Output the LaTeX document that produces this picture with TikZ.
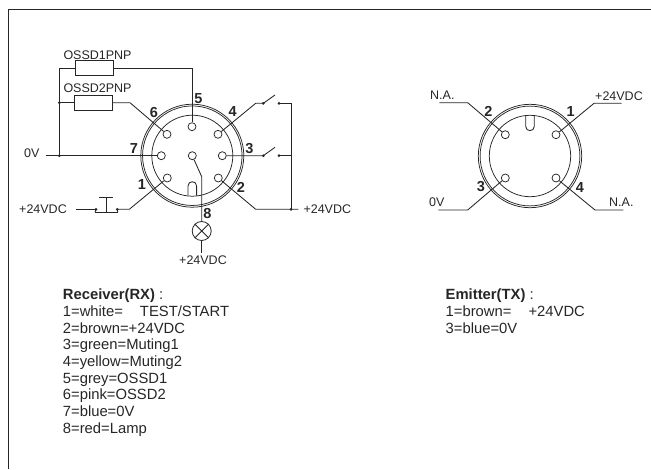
\documentclass[tikz,border=0pt]{standalone}
\usepackage{fontspec}
\setmainfont{Liberation Sans}
\begin{document}
\begin{tikzpicture}[x=1pt,y=-1pt,
  wire/.style={line width=0.85pt,draw=black!85},
  pinhole/.style={circle,draw=black!85,line width=0.75pt,fill=white,minimum size=8pt,inner sep=0pt},
  ring/.style={circle,draw=black!85,line width=0.75pt,inner sep=0pt},
  res/.style={rectangle,draw=black!85,line width=0.85pt,minimum width=38pt,minimum height=15pt,inner sep=0pt},
  lab/.style={anchor=base west,inner sep=0pt,font=\fontsize{12.5}{14}\selectfont,text=black!85},
  num/.style={inner sep=0pt,font=\fontsize{14.5}{16}\selectfont\bfseries,text=black!85},
  dotj/.style={circle,fill=black!85,minimum size=3pt,inner sep=0pt},
  lst/.style={anchor=north west,inner sep=0pt,align=left,font=\fontsize{14.8}{16.67}\selectfont,text=black!85},
  lamp/.style={circle,draw=black!85,line width=0.8pt,fill=white,minimum size=19pt,inner sep=0pt}]
\useasboundingbox (0,0) rectangle (651,469);
\draw[line width=1.1pt,draw=black!85] (8.5,469) -- (8.5,9.5) -- (651,9.5);

% ---------- receiver connector
\node[ring,minimum size=103pt] (ro) at (192.3,155.7) {};
\node[ring,minimum size=99.5pt] (rm) at (192.3,155.7) {};
\node[ring,minimum size=81pt] (ri) at (192.3,155.7) {};
\draw[wire] (188,195.6) -- (188,186) .. controls (188,180.3) and (196.6,180.3) .. (196.6,186) -- (196.6,195.6);

\node[pinhole] (r5) at (192,126.7) {};
\node[pinhole] (r6) at (167,134.3) {};
\node[pinhole] (r4) at (218,134.3) {};
\node[pinhole] (r7) at (161.3,155.7) {};
\node[pinhole] (r3) at (222.3,155.7) {};
\node[pinhole] (r8) at (192.3,155.7) {};
\node[pinhole] (r1) at (167.3,178) {};
\node[pinhole] (r2) at (218.3,178) {};

\node[res] (osd1) at (94.2,68.3) {};
\node[res] (osd2) at (93.7,102.7) {};
\node[lamp] (lmp) at (201.7,231) {};
\draw[wire] (lmp.45) -- (lmp.225) (lmp.135) -- (lmp.315);

\coordinate (j0) at (59.3,155.7);
\coordinate (j2) at (59.3,102.7);
\coordinate (zl) at (45.7,155.7);
\coordinate (c51) at (192,68.3);
\coordinate (c11) at (59.3,68.3);
\coordinate (c61) at (130,102.7);
\coordinate (c41) at (255.7,103.3);
\coordinate (s4a) at (263.3,103.3);
\coordinate (s4b) at (279,103.3);
\coordinate (s4t) at (275,95);
\coordinate (s3a) at (263.3,155.7);
\coordinate (s3b) at (279,155.7);
\coordinate (s3t) at (275,147.3);
\coordinate (r4r) at (291,103.3);
\coordinate (r3r) at (291,155.7);
\coordinate (r2r) at (291,209.3);
\coordinate (c21) at (255.7,209.3);
\coordinate (ve) at (298.3,209.3);
\coordinate (c11b) at (129.3,209.3);
\coordinate (b1) at (117.3,209.3);
\coordinate (b2) at (96,209.3);
\coordinate (ple) at (75.7,209.3);
\coordinate (bar1) at (95,212.3);
\coordinate (bar2) at (117.8,212.3);
\coordinate (stem) at (106,212.3);
\coordinate (stemt) at (106,197.3);
\coordinate (capl) at (99.3,197.3);
\coordinate (capr) at (112.7,197.3);
\coordinate (c81) at (201.7,176.7);
\coordinate (lb) at (201.7,253);

\draw[wire] (r5) -- (c51) -- (osd1);
\draw[wire] (osd1) -- (c11) -- (j0);
\draw[wire] (j2) -- (osd2);
\draw[wire] (osd2) -- (c61) -- (r6);
\draw[wire] (zl) -- (r7);
\draw[wire] (r4) -- (c41) -- (s4a) -- (s4t);
\draw[wire] (s4b) -- (r4r) -- (r2r);
\draw[wire] (r3) -- (s3a) -- (s3t);
\draw[wire] (s3b) -- (r3r);
\draw[wire] (r2) -- (c21) -- (ve);
\draw[wire] (r1) -- (c11b) -- (b1);
\draw[wire] (b2) -- (ple);
\draw[wire] (b1) -- (bar2);
\draw[wire] (b2) -- (bar1);
\draw[line width=1.5pt,draw=black!85] (bar1) -- (bar2);
\draw[wire] (stem) -- (stemt);
\draw[wire] (capl) -- (capr);
\draw[wire] (r8) -- (c81) -- (lmp);
\draw[wire] (lmp) -- (lb);

\node[dotj] at (j0) {};
\node[dotj] at (j2) {};
\node[dotj] at (s4a) {};
\node[dotj] at (s4b) {};
\node[dotj] at (s3a) {};
\node[dotj] at (s3b) {};
\node[dotj] at (r2r) {};
\node[dotj] at (b1) {};
\node[dotj] at (b2) {};

\node[num] (n5) at (198.3,98.3) {5};
\node[num] (n6) at (154,112.7) {6};
\node[num] (n4) at (232.7,112) {4};
\node[num] (n7) at (134,148.3) {7};
\node[num] (n3) at (249.3,149) {3};
\node[num] (n1) at (142,185) {1};
\node[num] (n2) at (241,187.3) {2};
\node[num] (n8) at (207.3,213.3) {8};

\node[lab] (t1) at (63.3,59.5) {OSSD1PNP};
\node[lab] (t2) at (63.3,92.8) {OSSD2PNP};
\node[lab] (t3) at (24,157.2) {0V};
\node[lab] (t4) at (19,213.5) {+24VDC};
\node[lab] (t5) at (303.3,213.2) {+24VDC};
\node[lab] (t6) at (179,264.5) {+24VDC};

% ---------- emitter connector
\node[ring,minimum size=103.4pt] (eo) at (530,156) {};
\node[ring,minimum size=99.8pt] (em) at (530,156) {};
\node[ring,minimum size=81.4pt] (ei) at (530,156) {};
\draw[wire] (525.7,115.6) -- (525.7,126.4) .. controls (525.7,132) and (534.3,132) .. (534.3,126.4) -- (534.3,115.6);

\node[pinhole] (e2) at (505.3,134.7) {};
\node[pinhole] (e1) at (556,134.7) {};
\node[pinhole] (e3) at (505.3,178) {};
\node[pinhole] (e4) at (556,178) {};

\coordinate (e2a) at (467.7,102.7);
\coordinate (e2b) at (439.3,102.7);
\coordinate (e1a) at (594,103.3);
\coordinate (e1b) at (621.7,103.3);
\coordinate (e3a) at (467.7,210);
\coordinate (e3b) at (438.3,210);
\coordinate (e4a) at (595,210);
\coordinate (e4b) at (623.3,210);
\draw[wire] (e2) -- (e2a) -- (e2b);
\draw[wire] (e1) -- (e1a) -- (e1b);
\draw[wire] (e3) -- (e3a) -- (e3b);
\draw[wire] (e4) -- (e4a) -- (e4b);

\node[num] (m2) at (488.3,111.7) {2};
\node[num] (m1) at (570.7,111.7) {1};
\node[num] (m3) at (481,186.7) {3};
\node[num] (m4) at (580,187.7) {4};

\node[lab] (u1) at (430,99.5) {N.A.};
\node[lab] (u2) at (595,100.2) {+24VDC};
\node[lab] (u3) at (429,206.2) {0V};
\node[lab] (u4) at (609,206.5) {N.A.};

% ---------- legends
\node[lst] (lrx) at (62.7,288.8) {\textbf{Receiver(RX)} :\\
1=white=\hspace{1.15em}TEST/START\\
2=brown=+24VDC\\
3=green=Muting1\\
4=yellow=Muting2\\
5=grey=OSSD1\\
6=pink=OSSD2\\
7=blue=0V\\
8=red=Lamp};
\node[lst] (ltx) at (445.5,288.8) {\textbf{Emitter(TX)} :\\
1=brown=\hspace{1.15em}+24VDC\\
3=blue=0V};
\end{tikzpicture}
\end{document}
